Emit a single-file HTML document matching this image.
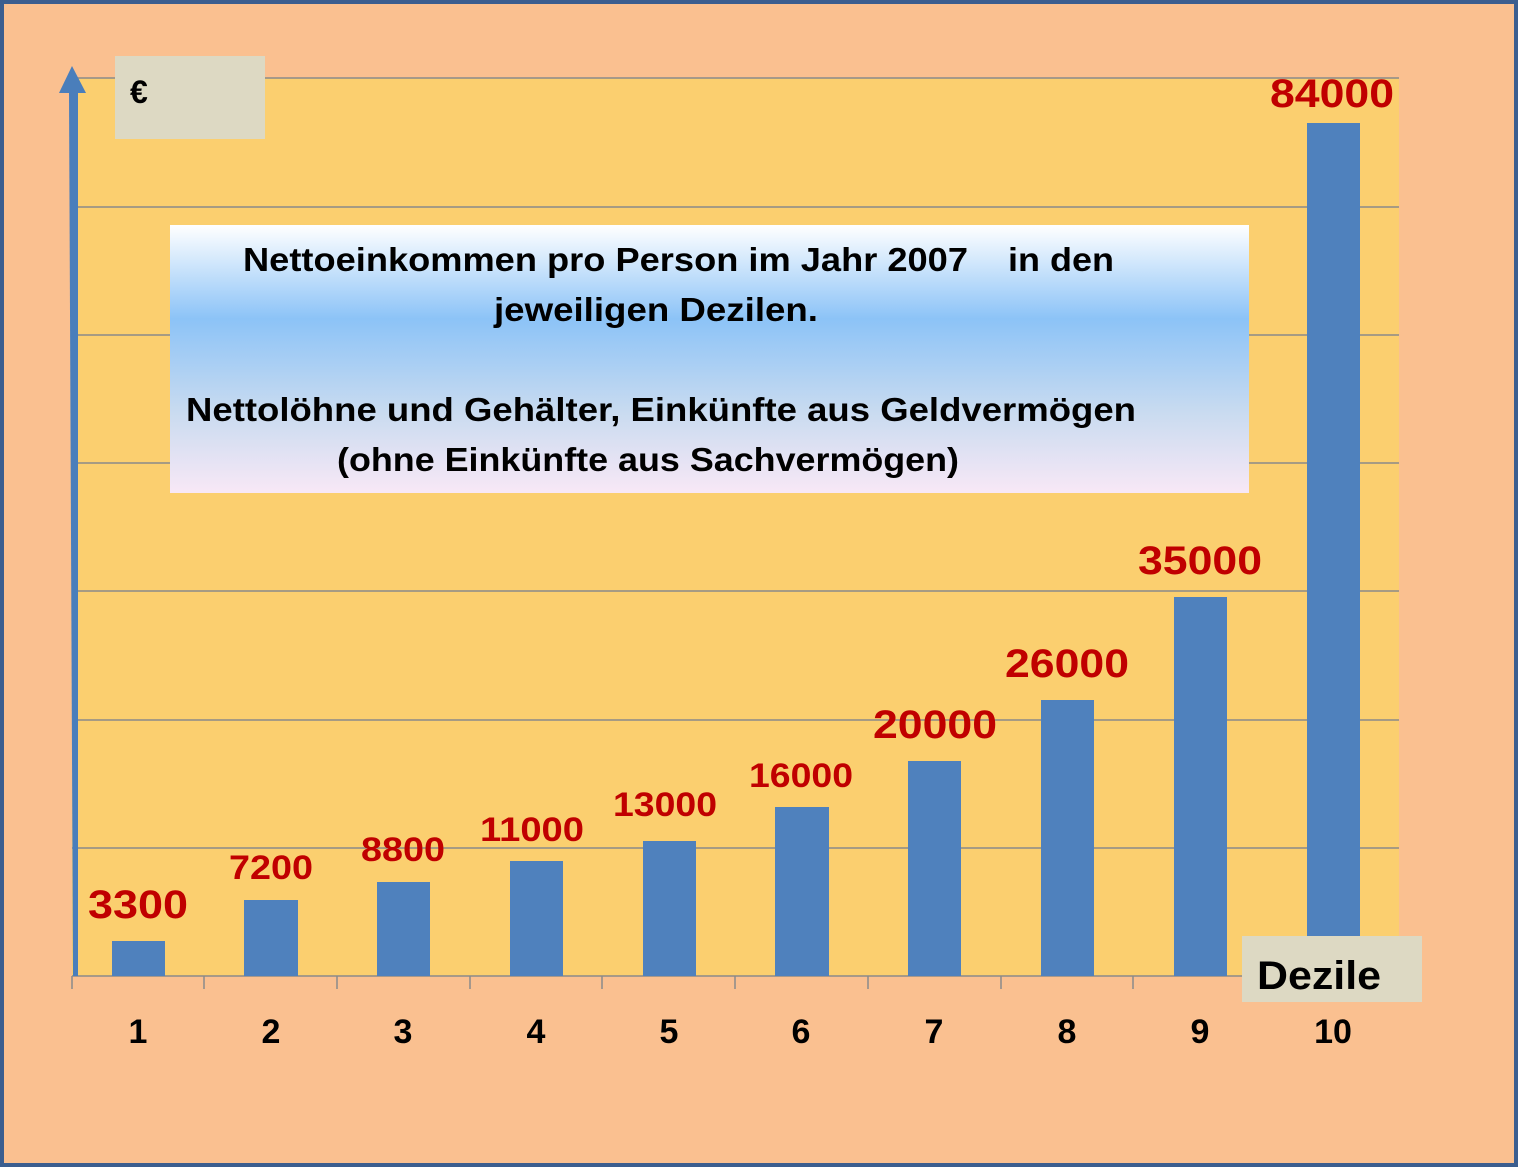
<!DOCTYPE html>
<html><head><meta charset="utf-8"><style>
html,body{margin:0;padding:0;background:#fac090;}
svg{display:block}
text{font-family:"Liberation Sans",sans-serif;font-weight:bold}
</style></head><body>
<svg width="1518" height="1167" viewBox="0 0 1518 1167">
<defs>
<linearGradient id="g" x1="0" y1="0" x2="0" y2="1">
<stop offset="0" stop-color="#ffffff"/>
<stop offset="0.35" stop-color="#8cc3f7"/>
<stop offset="0.7" stop-color="#c9dbf0"/>
<stop offset="1" stop-color="#f8e8f6"/>
</linearGradient>
</defs>
<rect x="2" y="2" width="1514" height="1163" fill="#fac090" stroke="#3b5e8f" stroke-width="4"/>
<rect x="72" y="78" width="1327" height="898" fill="#fbcf6f"/>
<g stroke="#8a8a8a" stroke-width="1.5">
<line x1="72" y1="78" x2="1399" y2="78"/>
<line x1="72" y1="207" x2="1399" y2="207"/>
<line x1="72" y1="335" x2="1399" y2="335"/>
<line x1="72" y1="463" x2="1399" y2="463"/>
<line x1="72" y1="591" x2="1399" y2="591"/>
<line x1="72" y1="720" x2="1399" y2="720"/>
<line x1="72" y1="848" x2="1399" y2="848"/>
<line x1="72" y1="976" x2="1399" y2="976"/>
<line x1="72" y1="976" x2="72" y2="989"/>
<line x1="204" y1="976" x2="204" y2="989"/>
<line x1="337" y1="976" x2="337" y2="989"/>
<line x1="470" y1="976" x2="470" y2="989"/>
<line x1="602" y1="976" x2="602" y2="989"/>
<line x1="735" y1="976" x2="735" y2="989"/>
<line x1="868" y1="976" x2="868" y2="989"/>
<line x1="1001" y1="976" x2="1001" y2="989"/>
<line x1="1133" y1="976" x2="1133" y2="989"/>
</g>
<g fill="#4f81bd">
<rect x="112" y="941" width="53" height="35"/>
<rect x="244" y="900" width="54" height="76"/>
<rect x="377" y="882" width="53" height="94"/>
<rect x="510" y="861" width="53" height="115"/>
<rect x="643" y="841" width="53" height="135"/>
<rect x="775" y="807" width="54" height="169"/>
<rect x="908" y="761" width="53" height="215"/>
<rect x="1041" y="700" width="53" height="276"/>
<rect x="1174" y="597" width="53" height="379"/>
<rect x="1307" y="123" width="53" height="853"/>
</g>
<!-- axis arrow -->
<polygon points="69,92 78,92 78,976 73,976" fill="#4a7ebb"/>
<polygon points="72,66 86,93 59,93" fill="#4a7ebb"/>
<rect x="115" y="56" width="150" height="83" fill="#ddd9c3"/>
<text x="130" y="103" font-size="32" fill="#000">€</text>
<rect x="170" y="225" width="1079" height="268" fill="url(#g)"/>
<g font-size="33" fill="#000">
<text x="243" y="271" textLength="725" lengthAdjust="spacingAndGlyphs">Nettoeinkommen pro Person im Jahr 2007</text>
<text x="1008" y="271" textLength="106" lengthAdjust="spacingAndGlyphs">in den</text>
<text x="494" y="321" textLength="324" lengthAdjust="spacingAndGlyphs">jeweiligen Dezilen.</text>
<text x="186" y="421" textLength="950" lengthAdjust="spacingAndGlyphs">Nettolöhne und Gehälter, Einkünfte aus Geldvermögen</text>
<text x="337" y="471" textLength="622" lengthAdjust="spacingAndGlyphs">(ohne Einkünfte aus Sachvermögen)</text>
</g>
<g fill="#c00000" text-anchor="middle">
<text x="138" y="918" font-size="40" textLength="100" lengthAdjust="spacingAndGlyphs">3300</text>
<text x="271" y="879" font-size="34" textLength="84" lengthAdjust="spacingAndGlyphs">7200</text>
<text x="403" y="861" font-size="34" textLength="84" lengthAdjust="spacingAndGlyphs">8800</text>
<text x="532" y="841" font-size="34" textLength="104" lengthAdjust="spacingAndGlyphs">11000</text>
<text x="665" y="816" font-size="34" textLength="104" lengthAdjust="spacingAndGlyphs">13000</text>
<text x="801" y="787" font-size="34" textLength="104" lengthAdjust="spacingAndGlyphs">16000</text>
<text x="935" y="738" font-size="40" textLength="124" lengthAdjust="spacingAndGlyphs">20000</text>
<text x="1067" y="677" font-size="40" textLength="124" lengthAdjust="spacingAndGlyphs">26000</text>
<text x="1200" y="574" font-size="40" textLength="124" lengthAdjust="spacingAndGlyphs">35000</text>
<text x="1332" y="107" font-size="40" textLength="124" lengthAdjust="spacingAndGlyphs">84000</text>
</g>
<rect x="1242" y="936" width="180" height="66" fill="#ddd9c3"/>
<text x="1257" y="989" font-size="40" fill="#000" textLength="124" lengthAdjust="spacingAndGlyphs">Dezile</text>
<g font-size="34" fill="#000" text-anchor="middle">
<text x="138" y="1043">1</text>
<text x="271" y="1043">2</text>
<text x="403" y="1043">3</text>
<text x="536" y="1043">4</text>
<text x="669" y="1043">5</text>
<text x="801" y="1043">6</text>
<text x="934" y="1043">7</text>
<text x="1067" y="1043">8</text>
<text x="1200" y="1043">9</text>
<text x="1333" y="1043">10</text>
</g>
</svg>
</body></html>
